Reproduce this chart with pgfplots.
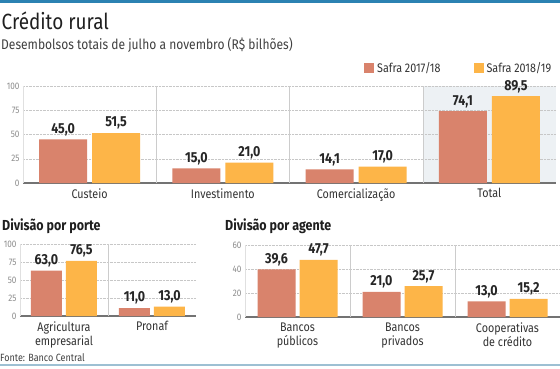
\documentclass[border=0pt]{standalone}
\usepackage{fontspec}
\setmainfont{Fira Sans}[FakeStretch=0.86]
\usepackage{pgfplots}
\pgfplotsset{compat=1.18}
\definecolor{salmon}{HTML}{D9836C}
\definecolor{amber}{HTML}{FDB548}
\definecolor{topblue}{HTML}{2B82B2}
\definecolor{botblue}{HTML}{9DC0D3}
\definecolor{totbg}{HTML}{EDF1F4}
\definecolor{tickgray}{HTML}{8C8C8C}
\definecolor{txt}{HTML}{333333}
\pgfplotsset{
  rural/.style={
    scale only axis,
    anchor=south west,
    ybar=4pt,
    ymin=0,
    axis x line*=bottom, axis y line*=left,
    x axis line style={draw=black!55, line width=1.1pt},
    y axis line style={draw=black!12},
    major tick length=0pt,
    ymajorgrids, grid style={densely dotted, draw=black!22},
    yticklabel style={font=\fontsize{9.5}{9.5}\selectfont, color=tickgray},
    xticklabel style={font=\fontsize{12.5}{14}\selectfont, color=txt, align=center, anchor=north},
    xticklabel shift=2pt,
    /pgf/number format/assume math mode=true,
    nodes near coords={\pgfmathprintnumber[fixed,fixed zerofill,precision=1,use comma]{\pgfplotspointmeta}},
    nodes near coords style={font=\bfseries\fontsize{14.5}{14.5}\selectfont, color=black!85},
    clip=false,
  }
}
\begin{document}
\begin{tikzpicture}[x=1pt,y=1pt]
\useasboundingbox (0,0) rectangle (560,368);
\fill[white] (0,0) rectangle (560,368);
\fill[topblue] (0,365) rectangle (560,368);
\fill[botblue] (0,2) rectangle (560,4.5);
\fill[totbg] (422.75,185) rectangle (556,282);
\node[anchor=base west, inner sep=0pt, font=\fontsize{22}{22}\selectfont, color=black!88] at (1.5,339) {Crédito rural};
\node[anchor=base west, inner sep=0pt, font=\fontsize{14}{14}\selectfont, color=black!75] at (1,318.7) {Desembolsos totais de julho a novembro (R\$ bilhões)};
\node[anchor=base west, inner sep=0pt, font=\bfseries\fontsize{14.5}{14.5}\selectfont, color=black!88] at (2,138) {Divisão por porte};
\node[anchor=base west, inner sep=0pt, font=\bfseries\fontsize{14.5}{14.5}\selectfont, color=black!88] at (225,138) {Divisão por agente};
\node[anchor=base west, inner sep=0pt, font=\fontsize{10.5}{10.5}\selectfont, color=black!75] at (0,7) {Fonte: Banco Central};

% Top chart
\begin{axis}[rural, at={(23pt,185pt)}, width=533pt, height=97pt,
  ymax=100, ytick={0,25,50,75,100},
  xmin=-0.5, xmax=3.5, xtick={0,1,2,3},
  xticklabels={Custeio,Investimento,Comercialização,Total},
  bar width=48pt, ybar=5pt,
  legend style={at={(axis description cs:0.997,1.1856)}, anchor=east, draw=none, fill=none, inner sep=0pt,
    font=\fontsize{12.5}{12.5}\selectfont, text=black!80,
    nodes={inner xsep=3pt},
    /tikz/every even column/.append style={column sep=30pt}},
  legend columns=2,
  legend image code/.code={\fill[#1] (0pt,-5pt) rectangle (10pt,5pt);},
]
\draw[black!20] (axis cs:0.5,0) -- (axis cs:0.5,100);
\draw[black!20] (axis cs:1.5,0) -- (axis cs:1.5,100);
\draw[black!20] (axis cs:2.5,0) -- (axis cs:2.5,100);
\addplot[fill=salmon, draw=none] coordinates {(0,45.0) (1,15.0) (2,14.1) (3,74.1)};
\addplot[fill=amber, draw=none] coordinates {(0,51.5) (1,21.0) (2,17.0) (3,89.5)};
\legend{Safra 2017/18, Safra 2018/19}
\end{axis}

% Bottom left
\begin{axis}[rural, at={(20pt,52pt)}, width=176pt, height=72pt,
  ymax=100, ytick={0,25,50,75,100},
  xmin=-0.5, xmax=1.5, xtick={0,1},
  xticklabels={{Agricultura\\empresarial},{Pronaf\\\strut}},
  bar width=31pt,
]
\draw[black!20] (axis cs:0.5,0) -- (axis cs:0.5,100);
\addplot[fill=salmon, draw=none] coordinates {(0,63.0) (1,11.0)};
\addplot[fill=amber, draw=none] coordinates {(0,76.5) (1,13.0)};
\end{axis}

% Bottom right
\begin{axis}[rural, at={(245pt,51pt)}, width=315pt, height=72pt,
  ymax=60, ytick={0,20,40,60},
  xmin=-0.5, xmax=2.5, xtick={0,1,2},
  xticklabels={{Bancos\\públicos},{Bancos\\privados},{Cooperativas\\de crédito}},
  bar width=38pt,
]
\draw[black!20] (axis cs:0.5,0) -- (axis cs:0.5,60);
\draw[black!20] (axis cs:1.5,0) -- (axis cs:1.5,60);
\addplot[fill=salmon, draw=none] coordinates {(0,39.6) (1,21.0) (2,13.0)};
\addplot[fill=amber, draw=none] coordinates {(0,47.7) (1,25.7) (2,15.2)};
\end{axis}
\end{tikzpicture}
\end{document}
